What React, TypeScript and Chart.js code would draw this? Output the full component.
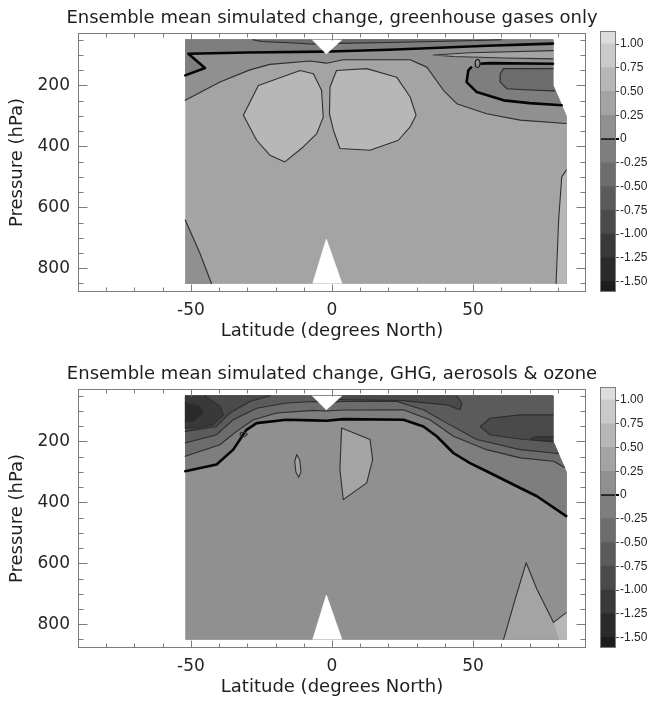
import React, { useEffect, useRef } from 'react';
import { Chart, registerables } from 'chart.js';

Chart.register(...registerables);

type Pt = [number, number]; // [latitude °N, pressure hPa]

// ---------- text ----------
const TITLE_GHG = 'Ensemble mean simulated change, greenhouse gases only';
const TITLE_ALL = 'Ensemble mean simulated change, GHG, aerosols & ozone';
const X_TITLE = 'Latitude (degrees North)';
const Y_TITLE = 'Pressure (hPa)';

// ---------- axes ----------
const LAT_LABELS = [-50, 0, 50];
const LAT_MINOR = [-80, -70, -60, -50, -40, -30, -20, -10, 0, 10, 20, 30, 40, 50, 60, 70, 80];
const P_LABELS = [200, 400, 600, 800];
const P_MINOR = [50, 100, 150, 200, 250, 300, 350, 400, 450, 500, 550, 600, 650, 700, 750, 800, 850];
const LAT_MIN = -90, LAT_MAX = 90, P_TOP = 28, P_BOTTOM = 878;

// ---------- colour scale (contour levels) ----------
const LEVELS = [-1.5, -1.25, -1, -0.75, -0.5, -0.25, 0, 0.25, 0.5, 0.75, 1];
const CB_MIN = -1.61, CB_MAX = 1.137;
const SHADES = ['#1c1c1c', '#2a2a2a', '#393939', '#4a4a4a', '#5b5b5b', '#6c6c6c',
  '#7e7e7e', '#909090', '#a4a4a4', '#b7b7b7', '#cacaca', '#dddddd'];

// ---------- data domain (both panels) ----------
const DOMAIN: Pt[] = [[-52, 50], [78.3, 50], [78.3, 200], [83, 300], [83, 850], [-52, 850]];
const NOTCH_TOP: Pt[] = [[-7, 50], [-2, 96], [3.5, 50]];
const NOTCH_BOTTOM: Pt[] = [[-6.8, 850], [-2, 705], [3.5, 850]];

// ---------- panel 1: greenhouse gases only ----------
const G_BACKGROUND = 0.25;
const G_C025: Pt[] = [[-52, 249], [-39.7, 189], [-29.1, 149], [-22, 131], [-7.8, 120], [-1.9, 127], [4, 116], [27.7, 116], [33.6, 140], [39.5, 216], [44.2, 260], [54.8, 293], [66.7, 314], [83, 325]];
const G_C025_EDGE: Pt[] = [[83, 300], [78.3, 200], [78.3, 50], [-52, 50]];
const G_ZERO_W: Pt[] = [[-52, 167], [-45, 143], [-50.9, 96], [-30, 92], [-3, 89]];
const G_ZERO_W_EDGE: Pt[] = [[0, 89], [0, 50], [-52, 50]];
const G_ZERO_E: Pt[] = [[-0.8, 88.5], [20, 83], [35.9, 77], [55, 70], [78.3, 63]];
const G_ZERO_E_EDGE: Pt[] = [[78.3, 50], [-1, 50]];
const G_TOP_W: Pt[] = [[-28, 50], [-25, 56], [-15, 60], [-7.8, 64], [-5.5, 64]];
const G_TOP_W_EDGE: Pt[] = [[-3, 64], [-3, 50]];
const G_TOP_E: Pt[] = [[2.1, 62], [20, 59], [40, 55], [55, 52], [60, 50]];
const G_TOP_E_EDGE: Pt[] = [[2.1, 50]];
const G_SLIVER: Pt[] = [[78.3, 113], [60.8, 110], [43, 105], [35.9, 100], [48.9, 93], [78.3, 86]];
const G_LOOP_A: Pt[] = [[78.3, 129], [56, 127], [53, 128.5]];
const G_LOOP_B: Pt[] = [[49.3, 141], [48.3, 151], [47.7, 189], [51.3, 222], [60.8, 249], [70, 258], [81.4, 265]];
const G_LOOP_EDGE: Pt[] = [[78.3, 200]];
const G_CORE: Pt[] = [[78.3, 145], [60.8, 145], [59.6, 162], [59.6, 189], [62, 211], [70, 215], [78.8, 218]];
const G_CORE_EDGE: Pt[] = [[78.3, 200]];
const G_BLOB_W: Pt[] = [[-26.1, 200], [-11.3, 151], [-6.6, 162], [-3.7, 216], [-3.1, 304], [-5.4, 358], [-10.2, 402], [-16.7, 451], [-22, 429], [-26.7, 380], [-31.4, 298]];
const G_BLOB_E: Pt[] = [[1.6, 151], [12.3, 145], [22.9, 173], [27.7, 238], [29.8, 298], [27.7, 336], [23.5, 380], [13.5, 413], [2.8, 407], [0.5, 347], [-0.9, 293], [-0.7, 205]];
const G_SW: Pt[] = [[-52, 642], [-46.8, 751], [-42.7, 850]];
const G_SW_EDGE: Pt[] = [[-52, 850]];
const G_SE: Pt[] = [[83, 478], [81.4, 500], [80.3, 642], [79.4, 850]];
const G_SE_EDGE: Pt[] = [[83, 850]];
const G_TEXT = [{ text: '0', at: [51.6, 134] as Pt }];

// ---------- panel 2: GHG, aerosols & ozone ----------
const A_BACKGROUND = 0;
const A_ZERO: Pt[] = [[-52, 298], [-40.9, 276], [-35, 227], [-30.3, 162], [-26.7, 140], [-16.1, 129], [-7, 131], [-1.9, 132], [4, 127], [25.3, 129], [32.4, 151], [37.1, 183], [43, 238], [48.9, 271], [54.8, 298], [66.7, 353], [72.6, 380], [83, 445]];
const A_ZERO_EDGE: Pt[] = [[83, 300], [78.3, 200], [78.3, 50], [-52, 50]];
const A_M025: Pt[] = [[-52, 249], [-39.7, 211], [-33.8, 167], [-27.9, 129], [-19.6, 107], [-6.6, 98], [-2, 100], [4, 97], [25.3, 96], [34.7, 129], [43, 183], [54.8, 227], [66.7, 254], [78.5, 265], [82.3, 285]];
const A_M050: Pt[] = [[-52, 205], [-40.9, 178], [-35, 129], [-26.7, 91], [-16.1, 74], [-6.6, 69], [-1, 72], [4, 69], [23, 69], [32.4, 96], [40.7, 140], [51.3, 194], [66.7, 227], [78.5, 238], [80.2, 240]];
const A_UPPER_EDGE: Pt[] = [[78.3, 200], [78.3, 50], [-52, 50]];
const A_M075_W: Pt[] = [[-52, 167], [-40.9, 151], [-36.2, 107], [-29.1, 69], [-22, 50]];
const A_M075_W_EDGE: Pt[] = [[-52, 50]];
const A_BAND: Pt[] = [[2, 63], [25.3, 66], [40.7, 80], [45.4, 96], [46, 75], [44.2, 50]];
const A_BAND_EDGE: Pt[] = [[2, 50]];
const A_OVAL: Pt[] = [[78.3, 113], [66.7, 113], [56, 124], [52.5, 151], [56, 178], [66.7, 192], [78.3, 202]];
const A_STREAK: Pt[] = [[78.3, 184], [71.4, 186], [70.5, 191], [71.4, 196], [78.3, 198]];
const A_CORE_W: Pt[] = [[-45, 50], [-39.7, 85], [-38.5, 113], [-42.1, 145], [-48, 156], [-52, 156]];
const A_CORE_W_EDGE: Pt[] = [[-52, 50]];
const A_CORE2_W: Pt[] = [[-52, 74], [-46.8, 85], [-45.6, 107], [-49.2, 134], [-52, 134]];
const A_RING: Pt[] = [[-32.5, 172], [-30.8, 170], [-30, 177], [-31, 185], [-32.4, 182], [-32.5, 172]];
const A_SPOT: Pt[] = [[-12.5, 243], [-11.4, 262], [-11, 300], [-11.8, 318], [-12.8, 300], [-13.2, 265]];
const A_EQ: Pt[] = [[3.4, 156], [13.5, 194], [14.4, 260], [12.3, 336], [4, 391], [2.8, 293]];
const A_SE: Pt[] = [[60.8, 850], [64.9, 718], [68.8, 598], [72.6, 685], [78.5, 794], [83, 762]];
const A_SE_EDGE: Pt[] = [[83, 850]];
const A_SE2: Pt[] = [[78.5, 794], [83, 762], [83, 850], [80.5, 850]];

// ---------- helpers ----------
const FONT = 'DejaVu Sans';
const close = (p: Pt[]): Pt[] => [...p, p[0]];
const band = (lo: number) => SHADES[LEVELS.filter((l) => l <= lo).length];

interface Region { pts: Pt[]; lo: number }
interface Contour { pts: Pt[]; level: number }

const GHG_REGIONS: Region[] = [
  { pts: [...G_C025, ...G_C025_EDGE], lo: 0 },
  { pts: [...G_ZERO_W, ...G_ZERO_W_EDGE], lo: -0.25 },
  { pts: [...G_ZERO_E, ...G_ZERO_E_EDGE], lo: -0.25 },
  { pts: [...G_TOP_W, ...G_TOP_W_EDGE], lo: -0.5 },
  { pts: [...G_TOP_E, ...G_TOP_E_EDGE], lo: -0.5 },
  { pts: G_SLIVER, lo: 0.25 },
  { pts: [...G_LOOP_A, ...G_LOOP_B, ...G_LOOP_EDGE], lo: -0.25 },
  { pts: [...G_CORE, ...G_CORE_EDGE], lo: -0.5 },
  { pts: G_BLOB_W, lo: 0.5 },
  { pts: G_BLOB_E, lo: 0.5 },
  { pts: [...G_SW, ...G_SW_EDGE], lo: 0 },
  { pts: [...G_SE, ...G_SE_EDGE], lo: 0.5 },
];
const GHG_LINES: Contour[] = [
  { pts: G_C025, level: 0.25 },
  { pts: G_ZERO_W, level: 0 },
  { pts: G_ZERO_E, level: 0 },
  { pts: G_TOP_W, level: -0.25 },
  { pts: G_TOP_E, level: -0.25 },
  { pts: G_SLIVER, level: 0.25 },
  { pts: G_LOOP_A, level: 0 },
  { pts: G_LOOP_B, level: 0 },
  { pts: G_CORE, level: -0.25 },
  { pts: close(G_BLOB_W), level: 0.5 },
  { pts: close(G_BLOB_E), level: 0.5 },
  { pts: G_SW, level: 0.25 },
  { pts: G_SE, level: 0.5 },
];

const ALL_REGIONS: Region[] = [
  { pts: [...A_ZERO, ...A_ZERO_EDGE], lo: -0.25 },
  { pts: [...A_M025, ...A_UPPER_EDGE], lo: -0.5 },
  { pts: [...A_M050, ...A_UPPER_EDGE], lo: -0.75 },
  { pts: [...A_M075_W, ...A_M075_W_EDGE], lo: -1 },
  { pts: [...A_BAND, ...A_BAND_EDGE], lo: -1 },
  { pts: A_OVAL, lo: -1 },
  { pts: A_STREAK, lo: -1.25 },
  { pts: [...A_CORE_W, ...A_CORE_W_EDGE], lo: -1.25 },
  { pts: A_CORE2_W, lo: -1.5 },
  { pts: A_SPOT, lo: 0.25 },
  { pts: A_EQ, lo: 0.25 },
  { pts: [...A_SE, ...A_SE_EDGE], lo: 0.25 },
  { pts: A_SE2, lo: 0.5 },
];
const ALL_LINES: Contour[] = [
  { pts: A_ZERO, level: 0 },
  { pts: A_M025, level: -0.25 },
  { pts: A_M050, level: -0.5 },
  { pts: A_M075_W, level: -0.75 },
  { pts: A_BAND, level: -0.75 },
  { pts: A_OVAL, level: -0.75 },
  { pts: A_STREAK, level: -1 },
  { pts: A_CORE_W, level: -1 },
  { pts: A_CORE2_W, level: -1.25 },
  { pts: A_RING, level: -0.25 },
  { pts: close(A_SPOT), level: 0.25 },
  { pts: close(A_EQ), level: 0.25 },
  { pts: A_SE, level: 0.25 },
];

const toXY = (p: Pt[]) => p.map(([x, y]) => ({ x, y }));

function fillDs(pts: Pt[], color: string) {
  return {
    data: toXY(pts), fill: 'shape', backgroundColor: color, borderColor: color,
    borderWidth: 0.8, pointRadius: 0, tension: 0, yAxisID: 'y',
  };
}
function lineDs(pts: Pt[], level: number) {
  return {
    data: toXY(pts), fill: false, borderColor: level === 0 ? '#050505' : '#2f2f2f',
    borderWidth: level === 0 ? 2.6 : 1.1, pointRadius: 0, tension: 0, yAxisID: 'y',
    borderJoinStyle: 'round', borderCapStyle: 'round',
  };
}

const panelFrame = {
  id: 'panelFrame',
  afterDraw(chart: any, _args: any, opts: any) {
    const { ctx, chartArea: a, scales } = chart;
    const xs = scales.x, ys = scales.y;
    ctx.save();
    ctx.fillStyle = '#111';
    ctx.font = `12px ${FONT}`;
    ctx.textAlign = 'center';
    ctx.textBaseline = 'middle';
    for (const t of opts.texts || []) {
      ctx.fillText(t.text, xs.getPixelForValue(t.at[0]), ys.getPixelForValue(t.at[1]));
    }
    ctx.strokeStyle = '#7d7d7d';
    ctx.lineWidth = 1;
    const L = Math.round(a.left) + 0.5, R = Math.round(a.right) - 0.5;
    const T = Math.round(a.top) + 0.5, B = Math.round(a.bottom) - 0.5;
    ctx.strokeRect(L, T, R - L, B - T);
    ctx.beginPath();
    for (const v of LAT_MINOR) {
      const px = Math.round(xs.getPixelForValue(v)) + 0.5;
      const len = LAT_LABELS.includes(v) ? 7 : 4;
      ctx.moveTo(px, B); ctx.lineTo(px, B - len);
      ctx.moveTo(px, T); ctx.lineTo(px, T + len);
    }
    for (const v of P_MINOR) {
      const py = Math.round(ys.getPixelForValue(v)) + 0.5;
      const len = P_LABELS.includes(v) ? 9 : 5;
      ctx.moveTo(L, py); ctx.lineTo(L + len, py);
      ctx.moveTo(R, py); ctx.lineTo(R - len, py);
    }
    ctx.stroke();
    ctx.restore();
  },
};

const barFrame = {
  id: 'barFrame',
  afterDraw(chart: any) {
    const { ctx, chartArea: a } = chart;
    ctx.save();
    ctx.strokeStyle = '#7d7d7d';
    ctx.lineWidth = 1;
    ctx.strokeRect(Math.round(a.left) + 0.5, Math.round(a.top) + 0.5,
      Math.round(a.right - a.left) - 1, Math.round(a.bottom - a.top) - 1);
    ctx.restore();
  },
};

const PANEL_W = 648, PANEL_H = 337, AREA_BOTTOM = 284, AXIS_W = 70;

function panelConfig(title: string, bgLo: number, regions: Region[], lines: Contour[], texts: any[]) {
  const layers = [
    fillDs(DOMAIN, band(bgLo)),
    ...regions.map((r) => fillDs(r.pts, band(r.lo))),
    ...lines.map((l) => lineDs(l.pts, l.level)),
    fillDs(NOTCH_TOP, '#ffffff'),
    fillDs(NOTCH_BOTTOM, '#ffffff'),
  ];
  return {
    type: 'line',
    data: { datasets: layers.reverse() },
    options: {
      responsive: false,
      animation: false,
      events: [],
      layout: { padding: 0 },
      plugins: {
        legend: { display: false },
        tooltip: { enabled: false },
        title: {
          display: true, text: title, color: '#1e1e1e',
          font: { family: FONT, size: 18, weight: 'normal', lineHeight: 1.2 },
          padding: { top: 0, bottom: 3.4 },
        },
        panelFrame: { texts },
      },
      scales: {
        x: {
          type: 'linear', min: LAT_MIN, max: LAT_MAX,
          afterBuildTicks: (s: any) => { s.ticks = LAT_LABELS.map((v) => ({ value: v })); },
          afterFit: (s: any) => { s.height = PANEL_H - AREA_BOTTOM; },
          grid: { display: false, drawTicks: false },
          border: { display: false },
          ticks: {
            padding: 8, color: '#262626', maxRotation: 0, autoSkip: false,
            font: { family: FONT, size: 17, lineHeight: 1.2 },
            callback: (v: any) => String(v),
          },
          title: {
            display: true, text: X_TITLE, color: '#1e1e1e',
            font: { family: FONT, size: 18, lineHeight: 1.2 },
            padding: { top: 0, bottom: 3.2 },
          },
        },
        y: {
          type: 'linear', position: 'left', reverse: true, min: P_TOP, max: P_BOTTOM,
          afterBuildTicks: (s: any) => { s.ticks = P_LABELS.map((v) => ({ value: v })); },
          afterFit: (s: any) => { s.width = AXIS_W; },
          grid: { display: false, drawTicks: false },
          border: { display: false },
          ticks: {
            padding: 8, color: '#262626',
            font: { family: FONT, size: 17, lineHeight: 1.2 },
            callback: (v: any) => String(v),
          },
          title: {
            display: true, text: Y_TITLE, color: '#1e1e1e',
            font: { family: FONT, size: 18, lineHeight: 1 },
            padding: { top: 0, bottom: 0 },
          },
        },
        // empty right-hand gutter (room for the colour bar), keeps the title centred on the plot
        gutter: {
          type: 'linear', position: 'right', display: true,
          afterFit: (s: any) => { s.width = AXIS_W; },
          grid: { display: false, drawTicks: false },
          border: { display: false },
          ticks: { display: false },
        },
      },
    },
    plugins: [panelFrame],
  };
}

function colorbarConfig() {
  const edges = [CB_MIN, ...LEVELS, CB_MAX];
  const datasets = SHADES.map((c, i) => ({
    data: [[edges[i], edges[i + 1]]],
    backgroundColor: c, borderWidth: 0,
    barPercentage: 1, categoryPercentage: 1, grouped: false,
  }));
  return {
    type: 'bar',
    data: { labels: [''], datasets },
    options: {
      responsive: false,
      animation: false,
      events: [],
      layout: { padding: { left: 4, right: 0, top: 23, bottom: PANEL_H - AREA_BOTTOM } },
      plugins: { legend: { display: false }, tooltip: { enabled: false } },
      scales: {
        x: { display: false },
        y: {
          position: 'right', min: CB_MIN, max: CB_MAX, z: 1,
          afterBuildTicks: (s: any) => { s.ticks = LEVELS.map((v) => ({ value: v })); },
          afterFit: (s: any) => { s.width = 36; },
          border: { display: false },
          grid: {
            drawOnChartArea: true, tickLength: 3,
            color: (c: any) => (c.tick && c.tick.value === 0 ? '#000000' : '#555555'),
            lineWidth: (c: any) => (c.tick && c.tick.value === 0 ? 2 : 1),
          },
          ticks: {
            padding: 1, color: '#262626',
            font: { family: 'Liberation Sans', size: 12 },
            callback: (v: any) => (Number(v) === 0 ? '0' : Number(v).toFixed(2)),
          },
        },
      },
    },
    plugins: [barFrame],
  };
}

function ChartCanvas({ make, left, top, width, height }: any) {
  const ref = useRef<HTMLCanvasElement>(null);
  useEffect(() => {
    const chart = new Chart(ref.current as HTMLCanvasElement, make() as any);
    return () => chart.destroy();
  }, []);
  return (
    <canvas
      ref={ref}
      width={width}
      height={height}
      style={{ position: 'absolute', left, top, width, height, display: 'block' }}
    />
  );
}

export default function App() {
  return (
    <div style={{ position: 'fixed', left: 0, top: 0, width: 656, height: 701, overflow: 'hidden', background: '#ffffff' }}>
      <ChartCanvas make={() => panelConfig(TITLE_GHG, G_BACKGROUND, GHG_REGIONS, GHG_LINES, G_TEXT)}
        left={8} top={8} width={PANEL_W} height={PANEL_H} />
      <ChartCanvas make={colorbarConfig} left={596} top={8} width={56} height={PANEL_H} />
      <ChartCanvas make={() => panelConfig(TITLE_ALL, A_BACKGROUND, ALL_REGIONS, ALL_LINES, [])}
        left={8} top={364} width={PANEL_W} height={PANEL_H} />
      <ChartCanvas make={colorbarConfig} left={596} top={364} width={56} height={PANEL_H} />
    </div>
  );
}
